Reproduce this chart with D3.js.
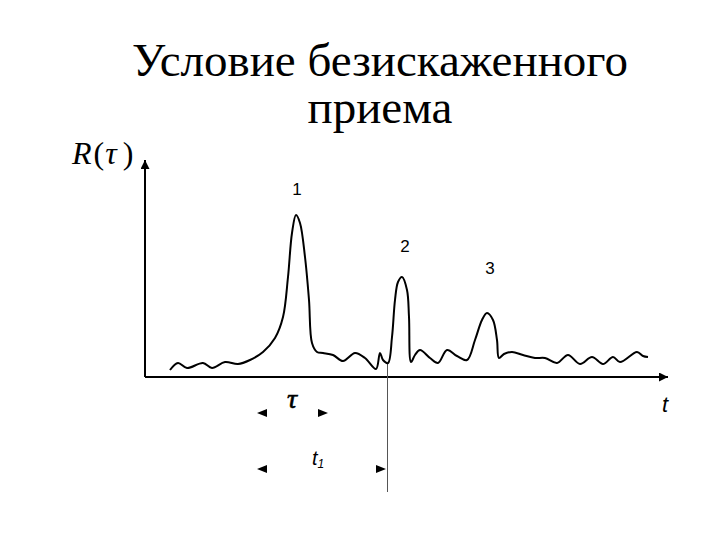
<!DOCTYPE html>
<html><head><meta charset="utf-8">
<script src="https://cdn.jsdelivr.net/npm/d3@7"></script>
<style>html,body{margin:0;padding:0;background:#fff;}svg{display:block;}</style>
</head><body>
<svg id="c" width="720" height="540"></svg>
<script>
const titleLines = ["Условие безискаженного", "приема"];
const tValues = [25,33,42,58,67,80,93,105,118,130,138,143,147,151,155,160,164,167,172,178,188,198,210,220,231,235,238,243,247,250,253,257,262,264,266,270,275,285,293,302,312,322,330,337,342,348,352,354,359,367,378,390,400,412,423,435,447,458,468,475,492,498,503];
const rValues = [7,14,9,14,9,15,13,17,25,39,60,100,144,162,154,120,77,34,25,24,22,16,24,19,8,24,17,14,40,77,95,100,87,60,15,22,27,19,14,27,21,17,37,57,64,57,37,19,23,25,22,19,19,14,22,13,20,13,20,15,25,21,20];
const peakLabels = ["1","2","3"];
const peakT = [151, 257, 342];
const peakR = [162, 100, 64];
const tauSpan = [112, 183];
const t1Span = [112, 242];
const xMax = 523, yMax = 217;

const svg = d3.select("#c");
const x = d3.scaleLinear().domain([0, xMax]).range([145, 668]);
const y = d3.scaleLinear().domain([0, yMax]).range([377, 160]);

// title
svg.selectAll("text.title").data(titleLines).join("text")
  .attr("class","title")
  .attr("x", 380).attr("y", (d,i)=> 76 + i*47)
  .attr("text-anchor","middle")
  .attr("font-family","'Liberation Serif','Times New Roman',serif")
  .attr("font-size", 47)
  .attr("fill","#000")
  .text(d=>d);

const defs = svg.append("defs");
defs.append("marker").attr("id","ah").attr("viewBox","0 0 10 10")
  .attr("refX",10).attr("refY",5).attr("markerWidth",14).attr("markerHeight",9)
  .attr("markerUnits","userSpaceOnUse").attr("orient","auto")
  .append("path").attr("d","M0,0 L10,5 L0,10 Z").attr("fill","#000");

// axes
svg.append("line").attr("x1", x(0)).attr("y1", y(0)).attr("x2", x(xMax)).attr("y2", y(0))
  .attr("stroke","#000").attr("stroke-width",2).attr("marker-end","url(#ah)");
svg.append("line").attr("x1", x(0)).attr("y1", y(0)).attr("x2", x(0)).attr("y2", y(yMax))
  .attr("stroke","#000").attr("stroke-width",2).attr("marker-end","url(#ah)");

// vertical t1 line
svg.append("line").attr("x1", x(t1Span[1])+0.5).attr("x2", x(t1Span[1])+0.5)
  .attr("y1", y(14)).attr("y2", 492)
  .attr("stroke","#555").attr("stroke-width",1);

// curve
const pts = tValues.map((t,i)=>[t, rValues[i]]);
svg.append("path").datum(pts)
  .attr("d", d3.line().x(d=>x(d[0])).y(d=>y(d[1])).curve(d3.curveCatmullRom.alpha(0.5)))
  .attr("fill","none").attr("stroke","#000").attr("stroke-width",2).attr("stroke-linejoin","round");

// peak labels
svg.selectAll("text.pk").data(peakLabels).join("text").attr("class","pk")
  .attr("x",(d,i)=>x(peakT[i]) + (i==0?1:3))
  .attr("y",(d,i)=> i==0 ? 195 : (i==1 ? 252 : 274))
  .attr("text-anchor","middle")
  .attr("font-family","'Liberation Sans',Arial,sans-serif").attr("font-size",17)
  .text(d=>d);

// axis labels
const rl = svg.append("text").attr("x", 72).attr("y", 164)
  .attr("font-family","'Liberation Serif','Times New Roman',serif").attr("font-size",32);
rl.append("tspan").attr("font-style","italic").text("R");
rl.append("tspan").attr("dx",2).text("(");
rl.append("tspan").attr("font-style","italic").attr("dx",1).text("τ");
rl.append("tspan").attr("dx",6).text(")");
svg.append("text").attr("x", 662).attr("y", 412)
  .attr("font-family","'Liberation Sans',Arial,sans-serif").attr("font-style","italic").attr("font-size",22)
  .text("t");
svg.append("text").attr("x", 292).attr("y", 408).attr("text-anchor","middle")
  .attr("font-family","'Liberation Serif','Times New Roman',serif").attr("font-style","italic").attr("font-size",28)
  .attr("stroke","#000").attr("stroke-width",0.6)
  .text("τ");
svg.append("text").attr("x", 312).attr("y", 465)
  .attr("font-family","'Liberation Sans',Arial,sans-serif").attr("font-style","italic").attr("font-size",20)
  .html('t<tspan font-size="12" dy="3">1</tspan>');

// span arrowheads
function arrowHead(px, py, dir) {
  const L = 10, W = 4;
  svg.append("path")
    .attr("d", `M${px},${py} L${px - dir*L},${py - W} L${px - dir*L},${py + W} Z`)
    .attr("fill","#000");
}
[[tauSpan, 413], [t1Span, 469]].forEach(([s, py]) => {
  arrowHead(x(s[0]), py, -1);
  arrowHead(x(s[1]) - (s === t1Span ? 1 : 0), py, 1);
});
</script>
</body></html>
